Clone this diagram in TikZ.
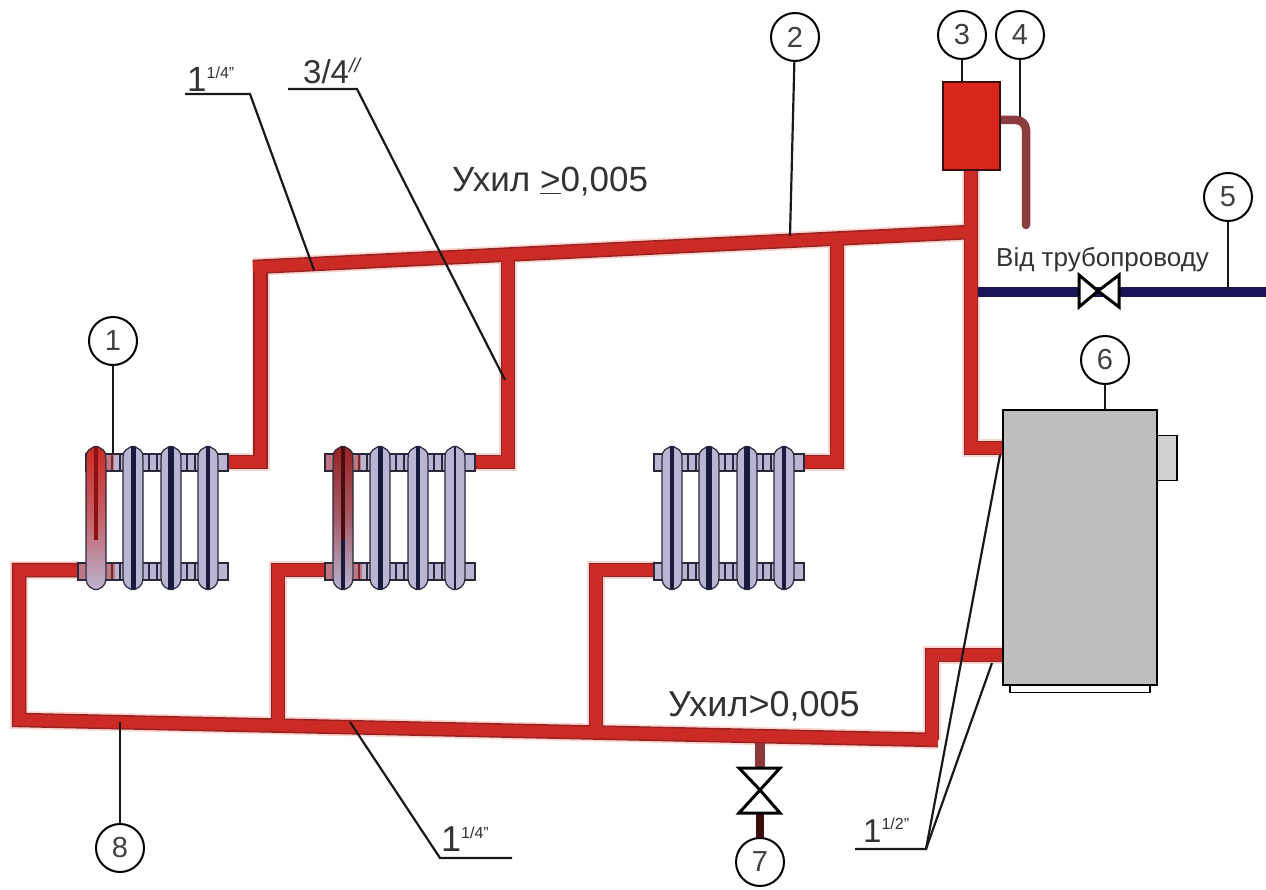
\documentclass[tikz,border=0pt]{standalone}
\usepackage{fontspec}
\setmainfont{Liberation Sans}
\definecolor{pipered}{HTML}{CC2A24}
\definecolor{pipeedge}{HTML}{962222}
\definecolor{pipeglow}{HTML}{FBD5D0}
\definecolor{radfill}{HTML}{B9B5D2}
\definecolor{radedge}{HTML}{2A2838}
\definecolor{radcore}{HTML}{1A1A3C}
\definecolor{navypipe}{HTML}{1C1458}
\definecolor{boilergray}{HTML}{BEBEBE}
\definecolor{tankred}{HTML}{D8261C}
\definecolor{ventbrown}{HTML}{8C3D3D}
\definecolor{coreA}{HTML}{8E1010}
\definecolor{coreB}{HTML}{4A0C0C}
\newcommand{\fs}[1]{\fontsize{#1}{#1}\selectfont}
\tikzset{
  callout/.style={circle,draw=black,line width=2pt,fill=white,minimum size=48pt,inner sep=0pt,font=\fontsize{29}{29}\selectfont,text=black!75},
  leader/.style={draw=black!90,line width=2.2pt},
  lbl/.style={inner sep=0pt,text=black!80,anchor=base west},
  radpart/.style={draw=radedge,line width=1.2pt,fill=radfill},
  valve/.style={draw=black,line width=3pt,fill=white,line join=miter},
}
\newcommand{\pipepaths}[1]{
  \draw[#1] (253,267) -- (971,232);
  \draw[#1] (228,462) -- (260.5,462) -- (260.5,262);
  \draw[#1] (475,462) -- (508,462) -- (508,258);
  \draw[#1] (803,462) -- (837,462) -- (837,240);
  \draw[#1] (971,170) -- (971,448) -- (1003,448);
  \draw[#1] (78,570) -- (19,570) -- (19,720) -- (938,740);
  \draw[#1] (938,740) -- (932,740) -- (932,655) -- (1003,655);
  \draw[#1] (325,570) -- (278,570) -- (278,724);
  \draw[#1] (655,570) -- (596,570) -- (596,730);
}
\newcommand{\radsection}[1]{
  \path[radpart,rounded corners=2pt] (#1-10,457) -- (#1-9,451) -- (#1,445.5) -- (#1+9,451) -- (#1+10,457) -- (#1+10,580) -- (#1+8,586) -- (#1,590.5) -- (#1-8,586) -- (#1-10,580) -- cycle;
}
% #1 shift, #2 start of the top bar, #3 list of centre/core-width pairs
\newcommand{\radiator}[3]{
\begin{scope}[xshift=#1pt]
  \path[radpart] (#2,454) rectangle (228,471);
  \path[radpart] (78,563) rectangle (228,580);
  \foreach \c in {115,152,190} {
    \draw[draw=radedge,line width=1.2pt] (\c-3,454) -- (\c-3,471) (\c+5,454) -- (\c+5,471);
    \draw[draw=radedge,line width=1.2pt] (\c-3,563) -- (\c-3,580) (\c+5,563) -- (\c+5,580);
  }
  \foreach \c/\w in {#3} {
    \radsection{\c}
    \draw[radcore,line width=\w pt] (\c,447) -- (\c,589);
  }
\end{scope}
}
\begin{document}
\begin{tikzpicture}[x=1pt,y=-1pt]
\useasboundingbox (0,0) rectangle (1266,890);
\fill[white] (0,0) rectangle (1266,890);

\node[callout] (c1) at (113,341) {1};
\node[callout] (c2) at (795,37) {2};
\node[callout] (c3) at (962,35) {3};
\node[callout] (c4) at (1020,35) {4};
\node[callout] (c5) at (1228,197) {5};
\node[callout] (c6) at (1105,360) {6};
\node[callout] (c7) at (760,862) {7};
\node[callout] (c8) at (120,848) {8};

\coordinate (t1) at (113,456);
\coordinate (t2) at (790,236);
\coordinate (t3) at (962,84);
\coordinate (t4) at (1020,117);
\coordinate (t5) at (1228,290);
\coordinate (t6) at (1105,411);
\coordinate (t8) at (120,722);
\draw[leader] (c1) -- (t1);
\draw[leader] (c3) -- (t3);
\draw[leader] (c4) -- (t4);
\draw[leader] (c6) -- (t6);

% pipes
\draw[ventbrown!80!pipeedge,line width=10pt] (760,730) -- (760,772);
\draw[black!60!pipeedge,line width=8pt] (760,812) -- (760,838);
\pipepaths{pipeglow,line width=18pt,line join=miter}
\draw[ventbrown!80!pipeedge,line width=10pt] (760,742) -- (760,772);
\pipepaths{pipeedge,line width=14.5pt,line join=miter}
\pipepaths{pipered,line width=11.5pt,line join=miter}
\draw[leader] (c2) -- (t2);
\draw[leader] (c8) -- (t8);

% radiators
\radiator{0}{86}{133/5,171/6,208/4}
\radiator{247}{78}{133/5,171/4.5,208/1.5}
\radiator{576}{78}{96/3.5,133/6,171/6,208/3.5}
% tinted first sections
\foreach \dx/\core/\tint in {0/coreA/pipered,247/coreB/pipeedge} {
\begin{scope}[xshift=\dx pt]
  \path[draw=radedge,line width=1.2pt,rounded corners=2pt,top color=\tint,bottom color=radfill,middle color=\tint!60!radfill]
    (86,457) -- (87,451) -- (96,445.5) -- (105,451) -- (106,457) -- (106,580) -- (104,586) -- (96,590.5) -- (88,586) -- (86,580) -- cycle;
  \draw[\core,line width=4pt] (96,447) -- (96,540);
  \fill[pipered,opacity=.45] (107,455) rectangle (114,470);
  \fill[pipered,opacity=.45] (79,564) rectangle (85,579);
  \fill[pipered,opacity=.45] (107,564) rectangle (115,579);
\end{scope}
}
\fill[pipered,opacity=.45] (326,455) rectangle (332,470);
\draw[radcore,line width=4pt] (343,540) -- (343,589);

% expansion tank and vent
\draw[ventbrown,line width=8.5pt,line cap=round,rounded corners=10pt] (998,120) -- (1026,120) -- (1026,225);
\node[draw=black!60!pipeedge,line width=1.2pt,fill=tankred,minimum width=57pt,minimum height=88pt,inner sep=0pt] (tank) at (971.5,126) {};

% boiler
\node[draw=black,line width=1.2pt,fill=boilergray!70!white,minimum width=20pt,minimum height=45pt,inner sep=0pt] (flue) at (1167,458) {};
\node[draw=black,line width=1.2pt,fill=white,minimum width=140pt,minimum height=9pt,inner sep=0pt] (foot) at (1080,688) {};
\node[draw=black,line width=1.7pt,fill=boilergray,minimum width=154pt,minimum height=275pt,inner sep=0pt] (boiler) at (1080,547.5) {};

% feed pipe and valves
\coordinate (feedL) at (978,292);
\coordinate (feedR) at (1266,292);
\draw[navypipe,line width=10pt] (feedL) -- (feedR);
\draw[leader] (c5) -- (t5);
\path[valve] (1079,275) -- (1098,291) -- (1079,307) -- cycle;
\path[valve] (1119,275) -- (1098,291) -- (1119,307) -- cycle;
\path[valve] (739,768) -- (780,768) -- (760,790) -- cycle;
\path[valve] (739,813) -- (780,813) -- (760,790) -- cycle;

% pipe-size leaders
\coordinate (a1) at (185,94); \coordinate (a2) at (250,94); \coordinate (a3) at (314,270);
\draw[leader] (a1) -- (a2) -- (a3);
\coordinate (b1) at (288,89); \coordinate (b2) at (357,89); \coordinate (b3) at (505,380);
\draw[leader] (b1) -- (b2) -- (b3);
\coordinate (d1) at (350,722); \coordinate (d2) at (440,858); \coordinate (d3) at (512,858);
\draw[leader] (d1) -- (d2) -- (d3);
\coordinate (e1) at (855,849); \coordinate (e2) at (926,849); \coordinate (e3) at (1000,455); \coordinate (e4) at (992,663);
\draw[leader] (e1) -- (e2) -- (e3);
\draw[leader] (e2) -- (e4);

% labels
\node[lbl,font=\fs{35}] (s1) at (187,92) {1\raisebox{13pt}{\fs{16}1/4''}};
\node[lbl,font=\fs{33}] (s2) at (303,84) {3/4\raisebox{11pt}{\fs{20}\itshape //}};
\node[lbl,font=\fs{36}] (s3) at (441,851) {1\raisebox{13pt}{\fs{16}1/4''}};
\node[lbl,font=\fs{33}] (s4) at (863,842) {1\raisebox{13pt}{\fs{16}1/2''}};
\node[lbl,font=\fs{35}] (u1) at (452,191.5) {Ухил \underline{>}0,005};
\node[lbl,font=\fs{36}] (u2) at (668,716) {Ухил>0,005};
\node[lbl,font=\fs{26}] (feedlbl) at (996,267) {Від трубопроводу};
\end{tikzpicture}
\end{document}
